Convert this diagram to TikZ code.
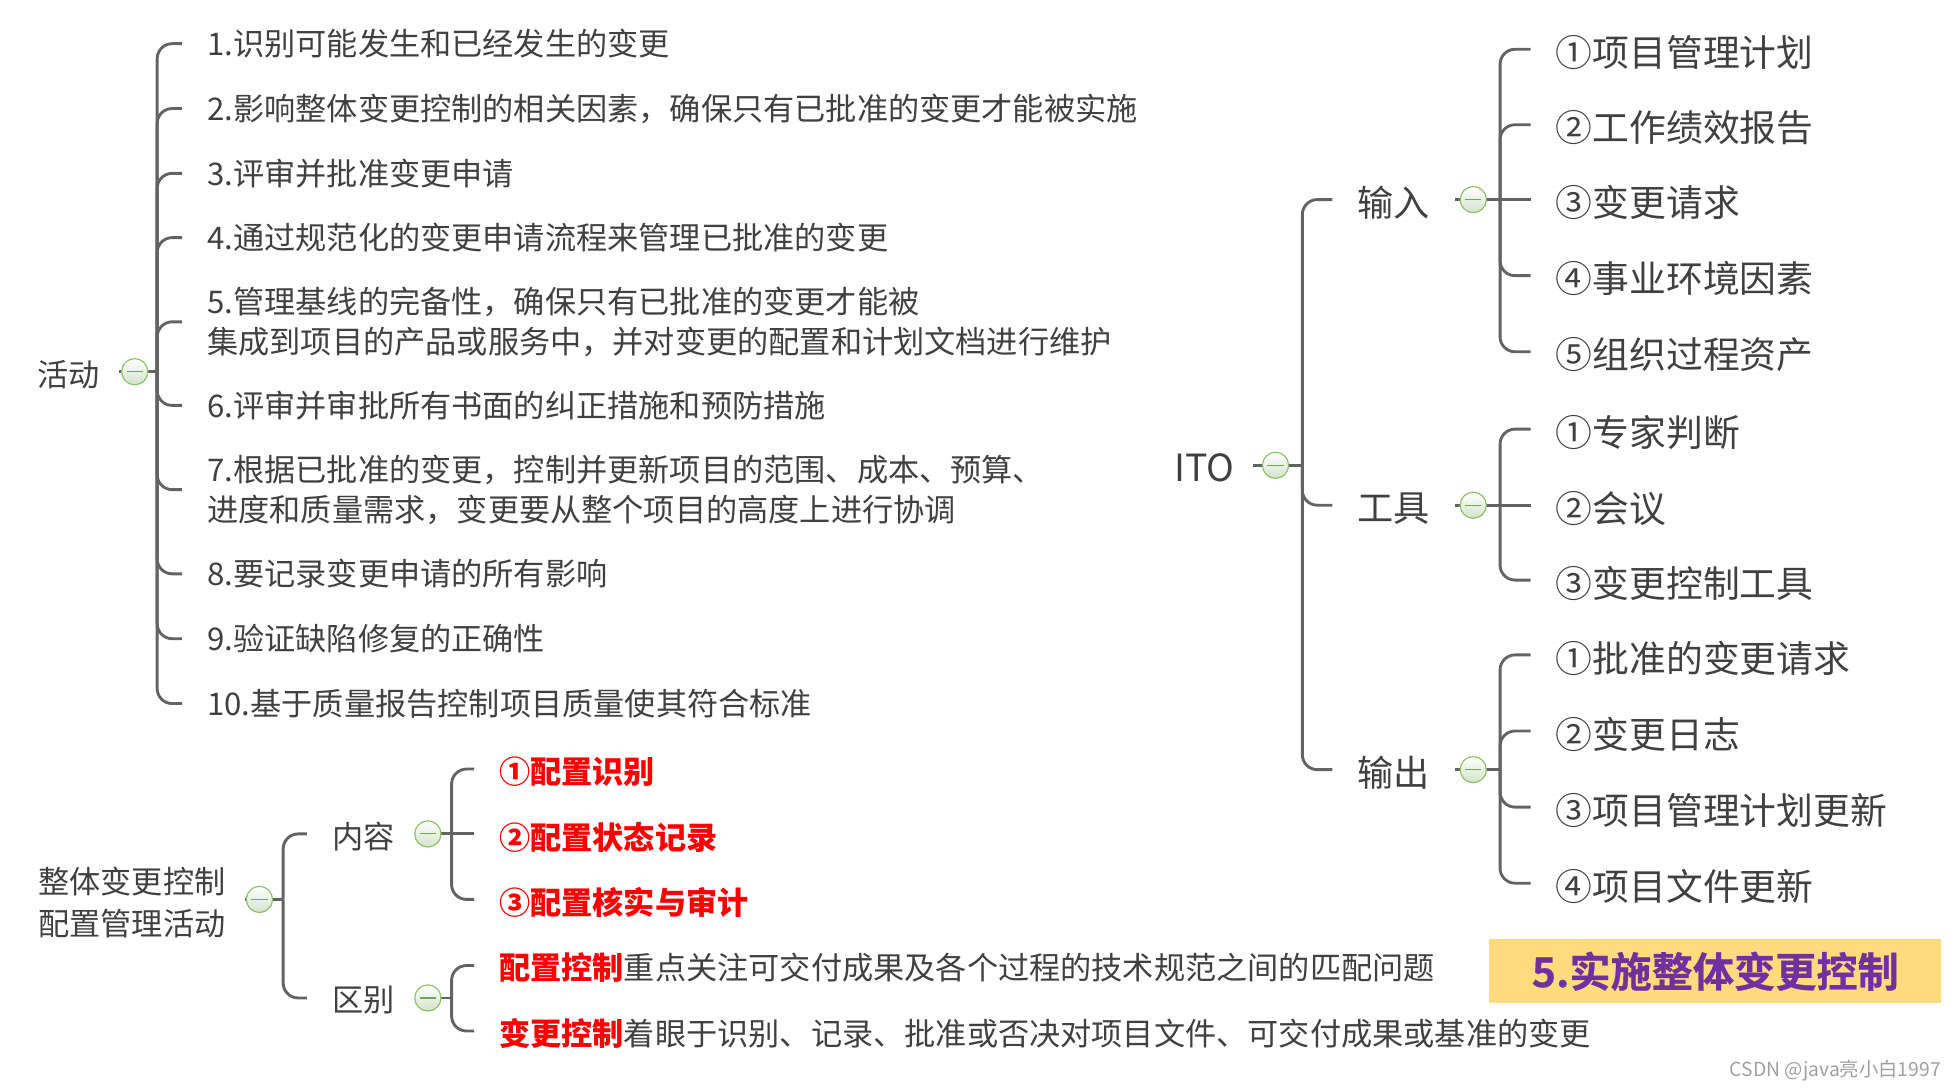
\documentclass[tikz,border=0pt]{standalone}
\usepackage{fontspec}
\setmainfont{Noto Sans CJK SC}
\newfontfamily\heavyfont{Noto Sans CJK SC}[UprightFont={* Bold}, FakeBold=0.6]
\newcommand\lowr[2][2.5pt]{\raisebox{-#1}[\height][\depth]{#2}}
\definecolor{txt}{HTML}{404040}
\definecolor{lin}{HTML}{636363}
\definecolor{togg}{HTML}{86C35F}
\definecolor{togb}{HTML}{D3E2CA}
\definecolor{ttl}{HTML}{FFDB7E}
\definecolor{pur}{HTML}{7030A0}
\definecolor{redt}{HTML}{FF0000}
\definecolor{wmc}{HTML}{A0A0A0}
\begin{document}
\begin{tikzpicture}[x=1pt,y=-1pt,
  item/.style={anchor=west, inner xsep=20pt, inner ysep=0pt, text=txt, align=left, font=\fontsize{25}{32}\selectfont},
  ritem/.style={item, font=\fontsize{29.5}{36}\selectfont},
  mitem/.style={item, font=\fontsize{29}{36}\selectfont},
  root/.style={anchor=west, inner xsep=15pt, inner ysep=0pt, text=txt, align=left, font=\fontsize{25}{33}\selectfont},
  redi/.style={item, text=redt, font=\fontsize{25}{32}\selectfont\bfseries},
  conn/.style={draw=lin, line width=2.3pt, rounded corners=12pt},
  tog/.style={circle, draw=togg, line width=0.9pt, minimum size=21pt, inner sep=0pt,
    top color=white, bottom color=togb,
    path picture={\draw[togg!85!black, line width=0.9pt]
      ([xshift=-6.5pt]path picture bounding box.center) -- ([xshift=6.5pt]path picture bounding box.center);}}
]
\useasboundingbox (0,0) rectangle (1568,874);

% ---------- 活动 ----------
\node[root] (hd) at (15,298) {\lowr[2pt]{活动}};
\node[item] (a1) at (146,35) {1.识别可能发生和已经发生的变更};
\node[item] (a2) at (146,87) {2.影响整体变更控制的相关因素，确保只有已批准的变更才能被实施};
\node[item] (a3) at (146,139) {3.评审并批准变更申请};
\node[item] (a4) at (146,190.5) {4.通过规范化的变更申请流程来管理已批准的变更};
\node[item] (a5) at (146,258) {5.管理基线的完备性，确保只有已批准的变更才能被\\集成到项目的产品或服务中，并对变更的配置和计划文档进行维护};
\node[item] (a6) at (146,325) {6.评审并审批所有书面的纠正措施和预防措施};
\node[item] (a7) at (146,392.5) {7.根据已批准的变更，控制并更新项目的范围、成本、预算、\\进度和质量需求，变更要从整个项目的高度上进行协调};
\node[item] (a8) at (146,460) {8.要记录变更申请的所有影响};
\node[item] (a9) at (146,512) {9.验证缺陷修复的正确性};
\node[item] (a10) at (146,564) {10.基于质量报告控制项目质量使其符合标准};
\coordinate (jhd) at (126,298);
\draw[conn] (hd.east) -- (jhd);
\foreach \c in {a1,a2,a3,a4,a5,a6,a7,a8,a9,a10} \draw[conn] (jhd) |- (\c.west);

% ---------- ITO ----------
\node[root, font=\fontsize{30}{36}\selectfont] (ito) at (926,373) {\lowr[2pt]{ITO}};
\node[mitem] (in) at (1068,160) {\lowr{输入}};
\node[mitem] (tl) at (1068,405) {\lowr{工具}};
\node[mitem] (out) at (1068,617) {\lowr{输出}};
\coordinate (jito) at (1044,373);
\draw[conn] (ito.east) -- (jito);
\foreach \c in {in,tl,out} \draw[conn] (jito) |- (\c.west);

\node[ritem] (i1) at (1227,39.5) {\lowr{①项目管理计划}};
\node[ritem] (i2) at (1227,100) {\lowr{②工作绩效报告}};
\node[ritem] (i3) at (1227,160) {\lowr{③变更请求}};
\node[ritem] (i4) at (1227,221) {\lowr{④事业环境因素}};
\node[ritem] (i5) at (1227,282) {\lowr{⑤组织过程资产}};
\coordinate (jin) at (1202.5,160);
\draw[conn] (in.east) -- (jin);
\draw[conn] (jin) -- (i3.west);
\foreach \c in {i1,i2,i4,i5} \draw[conn] (jin) |- (\c.west);

\node[ritem] (t1) at (1227,344) {\lowr{①专家判断}};
\node[ritem] (t2) at (1227,405) {\lowr{②会议}};
\node[ritem] (t3) at (1227,465) {\lowr{③变更控制工具}};
\coordinate (jtl) at (1202.5,405);
\draw[conn] (tl.east) -- (jtl);
\draw[conn] (jtl) -- (t2.west);
\foreach \c in {t1,t3} \draw[conn] (jtl) |- (\c.west);

\node[ritem] (o1) at (1227,525) {\lowr{①批准的变更请求}};
\node[ritem] (o2) at (1227,586) {\lowr{②变更日志}};
\node[ritem] (o3) at (1227,647) {\lowr{③项目管理计划更新}};
\node[ritem] (o4) at (1227,708) {\lowr{④项目文件更新}};
\coordinate (jout) at (1202.5,617);
\draw[conn] (out.east) -- (jout);
\foreach \c in {o1,o2,o3,o4} \draw[conn] (jout) |- (\c.west);

% ---------- 整体变更控制 配置管理活动 ----------
\node[root] (cm) at (15.6,723.5) {整体变更控制\\配置管理活动};
\node[item] (nr) at (246,668.5) {\lowr[2pt]{内容}};
\node[item] (qb) at (246,800) {\lowr[2pt]{区别}};
\coordinate (jcm) at (227,721);
\draw[conn] (cm.east |- jcm) -- (jcm);
\foreach \c in {nr,qb} \draw[conn] (jcm) |- (\c.west);

\node[redi] (r1) at (380,616.5) {\lowr{①配置识别}};
\node[redi] (r2) at (380,668.5) {\lowr{②配置状态记录}};
\node[redi] (r3) at (380,721) {\lowr{③配置核实与审计}};
\coordinate (jnr) at (362,668.5);
\draw[conn] (nr.east) -- (jnr);
\draw[conn] (jnr) -- (r2.west);
\foreach \c in {r1,r3} \draw[conn] (jnr) |- (\c.west);

\node[item] (q1) at (380,774) {\lowr[2pt]{{\color{redt}\bfseries 配置控制}重点关注可交付成果及各个过程的技术规范之间的匹配问题}};
\node[item] (q2) at (380,826.5) {\lowr[2pt]{{\color{redt}\bfseries 变更控制}着眼于识别、记录、批准或否决对项目文件、可交付成果或基准的变更}};
\coordinate (jqb) at (362,800);
\draw[conn] (qb.east) -- (jqb);
\foreach \c in {q1,q2} \draw[conn] (jqb) |- (\c.west);

% ---------- toggles ----------
\node[tog] (chd) at (108,298) {};
\node[tog] (cito) at (1022.5,373) {};
\node[tog] (cin) at (1181,160) {};
\node[tog] (ctl) at (1181,405) {};
\node[tog] (cout) at (1181,617) {};
\node[tog] (ccm) at (208,721) {};
\node[tog] (cnr) at (343,668.5) {};
\node[tog] (cqb) at (343,800) {};

% ---------- title & watermark ----------
\node[fill=ttl, minimum width=362pt, minimum height=51.5pt, inner sep=0pt, text=pur,
  font=\fontsize{33}{33}\heavyfont] (title) at (1375,778.6) {5.实施整体变更控制};
\node[anchor=east, inner sep=0pt, text=wmc, font=\fontsize{15.5}{16}\selectfont] (wm) at (1556,858) {CSDN @java亮小白1997};
\end{tikzpicture}
\end{document}
